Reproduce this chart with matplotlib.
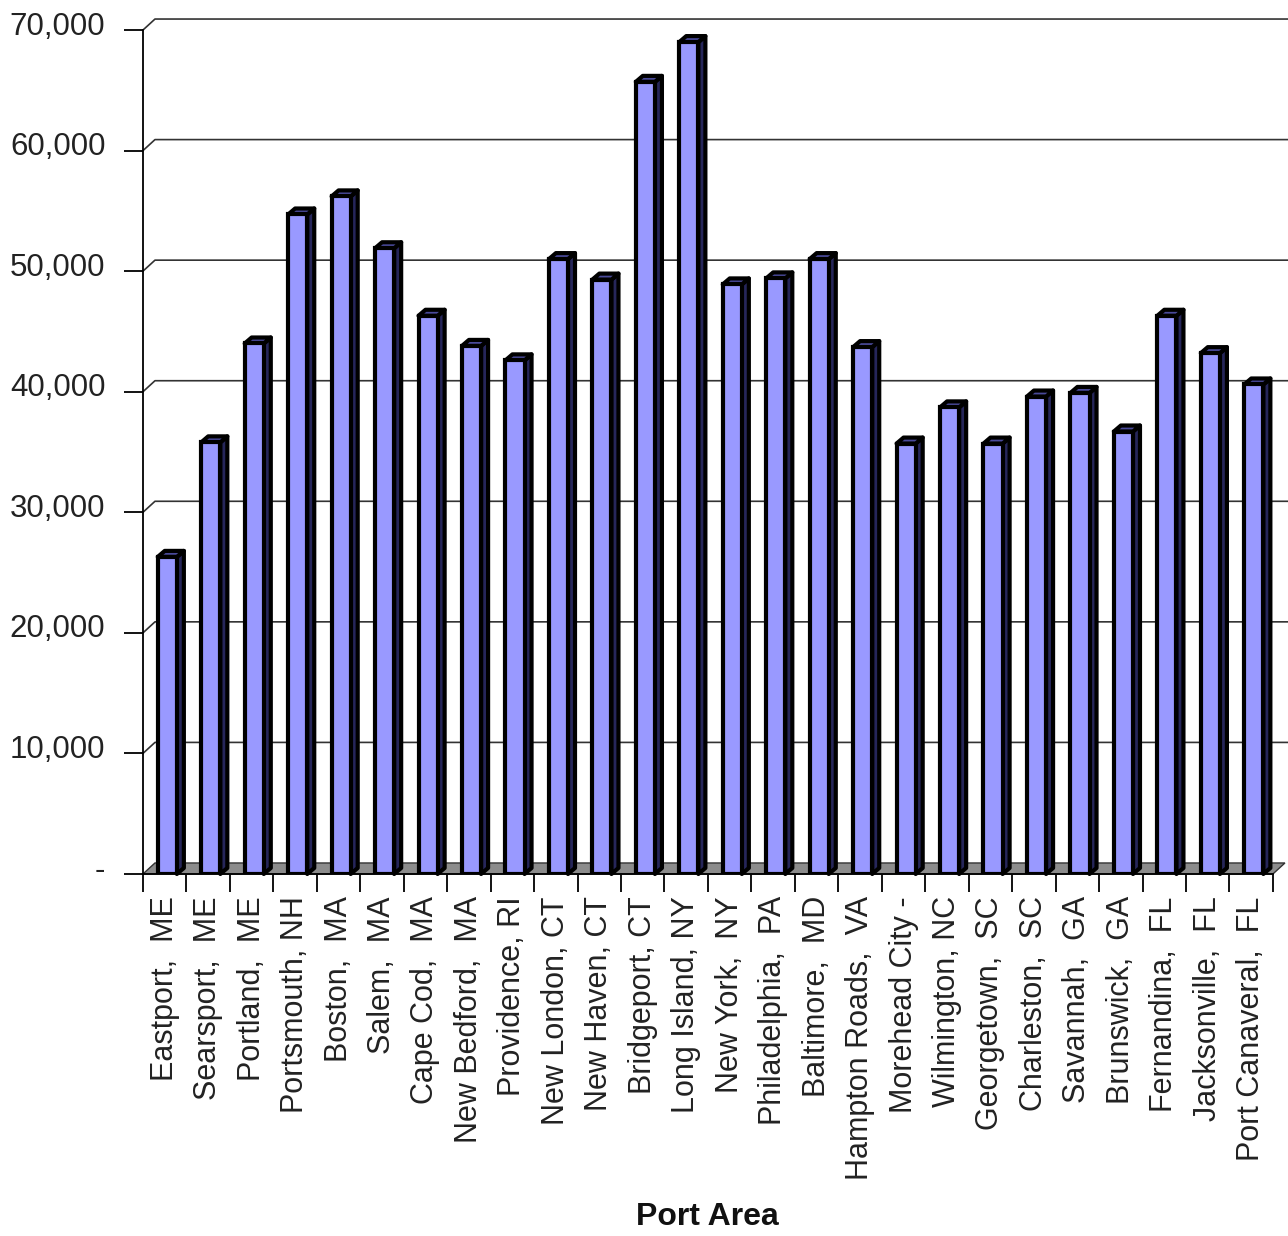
import matplotlib.pyplot as plt
from matplotlib.patches import Polygon
from matplotlib.transforms import ScaledTranslation

plt.rcParams['font.family'] = ['Liberation Sans', 'DejaVu Sans']

# Hafenbereiche und Werte (Frontflaeche der Saeulen)
ports = ["Eastport,  ME", "Searsport,  ME", "Portland,  ME", "Portsmouth, NH",
         "Boston,  MA", "Salem,  MA", "Cape Cod,  MA", "New Bedford,  MA",
         "Providence, RI", "New London, CT", "New Haven, CT", "Bridgeport, CT",
         "Long Island, NY", "New York,  NY", "Philadelphia,  PA", "Baltimore,  MD",
         "Hampton Roads,  VA", "Morehead City -", "Wilmington, NC", "Georgetown,  SC",
         "Charleston,  SC", "Savannah,  GA", "Brunswick,  GA", "Fernandina,  FL",
         "Jacksonville,  FL", "Port Canaveral,  FL"]
values = [26300, 35800, 44000, 54700, 56200, 51900, 46300, 43800,
          42600, 51000, 49300, 65700, 69000, 48900, 49400, 51000,
          43700, 35700, 38700, 35700, 39600, 39900, 36700, 46300,
          43200, 40600]
y_ticks = [0, 10000, 20000, 30000, 40000, 50000, 60000, 70000]

fig = plt.figure(figsize=(12.88, 12.36), dpi=100)
ax = fig.add_axes([0.1110, 0.2929, 0.8773, 0.6828])
n = len(ports)
ax.set_xlim(-0.5, n - 0.5)
ax.set_ylim(0, 70000)


def px_to_data(dx_px, dy_px):
    # Pixelversatz in Datenkoordinaten umrechnen (fuer den 3D-Effekt)
    inv = ax.transData.inverted()
    p0 = ax.transData.transform((0, 0))
    x1, y1 = inv.transform((p0[0] + dx_px, p0[1] + dy_px))
    x0, y0 = inv.transform(p0)
    return x1 - x0, y1 - y0


wall_dx, wall_dy = px_to_data(12, 11)
bar_dx, bar_dy = px_to_data(7, 6)
x_left, x_right = -0.5, n - 0.5

# Rueckwand-Gitterlinien mit schraegem Ansatz an der Achse
for v in y_ticks[1:]:
    ax.plot([x_left, x_left + wall_dx, x_right + wall_dx + 0.5],
            [v, v + wall_dy, v + wall_dy], color='#333333', lw=1.2,
            zorder=1, clip_on=False, solid_joinstyle='round')

# Boden (grau)
floor = Polygon([(x_left, 0), (x_right, 0), (x_right + wall_dx, wall_dy),
                 (x_left + wall_dx, wall_dy)], closed=True,
                facecolor='#8c8c8c', edgecolor='#333333', lw=1.0,
                zorder=2, clip_on=False)
ax.add_patch(floor)

# Saeulen mit Seite und Deckel
width = 0.44
offset = 0.06
lw = 3.0
for i, v in enumerate(values):
    left = i + offset - width / 2
    right = i + offset + width / 2
    side = Polygon([(right, 0), (right + bar_dx, bar_dy),
                    (right + bar_dx, v + bar_dy), (right, v)], closed=True,
                   facecolor='#26265a', edgecolor='black', lw=lw, zorder=3,
                   clip_on=False, joinstyle='round')
    top = Polygon([(left, v), (left + bar_dx, v + bar_dy),
                   (right + bar_dx, v + bar_dy), (right, v)], closed=True,
                  facecolor='#4a4a9a', edgecolor='black', lw=lw, zorder=3,
                  clip_on=False, joinstyle='round')
    ax.add_patch(side)
    ax.add_patch(top)
ax.bar([i + offset for i in range(n)], values, width=width, color='#9999ff',
       edgecolor='black', linewidth=lw, zorder=4)

# Achsen
for s in ['top', 'right']:
    ax.spines[s].set_visible(False)
ax.spines['left'].set_linewidth(1.3)
ax.spines['bottom'].set_linewidth(1.3)
ax.spines['left'].set_zorder(5)
ax.spines['bottom'].set_zorder(5)

ax.set_yticks(y_ticks)
ax.set_yticklabels(['-' if v == 0 else f'{v:,}' for v in y_ticks])
ax.tick_params(axis='y', length=14, width=1.3, pad=13, labelsize=22.5,
               labelcolor='#222222')
shift = ScaledTranslation(0, 5 / 72, fig.dpi_scale_trans)
for lab in ax.get_yticklabels():
    lab.set_transform(lab.get_transform() + shift)

ax.set_xticks(range(n))
ax.set_xticklabels(ports, rotation=90, va='top', ha='center')
ax.tick_params(axis='x', which='major', length=0, pad=16, labelsize=22,
               labelcolor='#222222')
ax.set_xticks([i - 0.5 for i in range(n + 1)], minor=True)
ax.tick_params(axis='x', which='minor', length=13, width=1.3)

fig.text(0.549, 0.0154, 'Port Area', ha='center', va='center',
         fontsize=23, fontweight='bold', color='#111111')

fig.savefig('out.png', dpi=100)
